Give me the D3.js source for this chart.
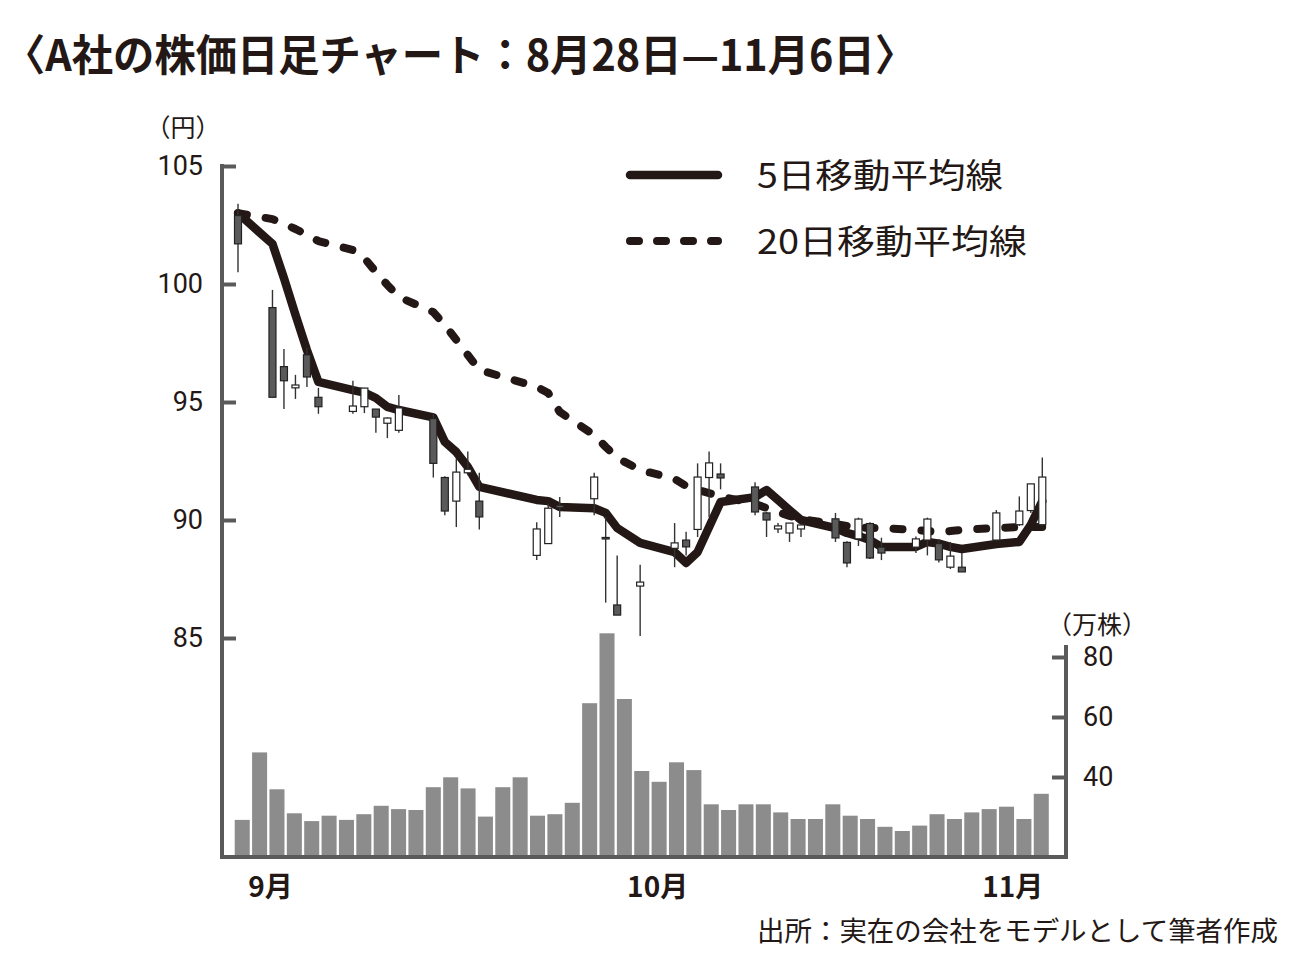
<!DOCTYPE html>
<html>
<head>
<meta charset="utf-8">
<script src="https://cdn.jsdelivr.net/npm/d3@7"></script>
<style>
  body { margin: 0; background: #fff; }
  text { font-family: "Noto Sans CJK JP", "Noto Sans", sans-serif; fill: #231815; }
  .num { font-family: Roboto, "DejaVu Sans", sans-serif; }
</style>
</head>
<body>
<div id="chart"></div>
<script>
// trading days (Oct 1 trading halted)
const dates = [
  '2020-08-28', '2020-08-31', '2020-09-01', '2020-09-02', '2020-09-03', '2020-09-04',
  '2020-09-07', '2020-09-08', '2020-09-09', '2020-09-10', '2020-09-11',
  '2020-09-14', '2020-09-15', '2020-09-16', '2020-09-17', '2020-09-18',
  '2020-09-23', '2020-09-24', '2020-09-25',
  '2020-09-28', '2020-09-29', '2020-09-30', '2020-10-02',
  '2020-10-05', '2020-10-06', '2020-10-07', '2020-10-08', '2020-10-09',
  '2020-10-12', '2020-10-13', '2020-10-14', '2020-10-15', '2020-10-16',
  '2020-10-19', '2020-10-20', '2020-10-21', '2020-10-22', '2020-10-23',
  '2020-10-26', '2020-10-27', '2020-10-28', '2020-10-29', '2020-10-30',
  '2020-11-02', '2020-11-04', '2020-11-05', '2020-11-06'
];
const opens = [102.9, 99.0, 96.5, 95.6, 97.0, 95.2, 94.6, 94.8, 94.7, 94.1, 93.8,
  94.3, 91.8, 90.8, 92.0, 90.8, 88.5, 89.0, 90.55, 90.9, 89.26, 86.4, 87.2,
  88.8, 89.15, 89.6, 91.8, 91.95, 91.4, 90.3, 89.62, 89.45, 89.62,
  90.05, 89.05, 89.2, 89.85, 88.85, 88.85, 89.15, 89.0, 88.0, 88.0,
  89.15, 89.8, 90.4, 89.8];
const highs = [103.4, 99.75, 97.25, 96.15, 97.3, 95.6, 95.9, 95.6, 94.7, 94.35, 95.3,
  94.5, 91.85, 92.6, 92.9, 92.0, 89.9, 90.7, 90.97, 92.0, 90.13, 88.5, 88.1,
  89.87, 89.5, 92.4, 92.9, 92.4, 91.6, 90.35, 89.87, 89.87, 89.85,
  90.3, 89.1, 90.1, 89.9, 89.25, 89.3, 90.1, 89.2, 89.07, 88.6,
  90.42, 91.0, 91.53, 92.65];
const lows = [100.5, 95.2, 94.7, 95.13, 95.64, 94.5, 94.5, 94.53, 93.7, 93.47, 93.7,
  91.8, 90.2, 89.7, 91.9, 89.6, 88.3, 89.0, 90.13, 90.2, 86.5, 85.97, 85.08,
  88.0, 88.5, 89.28, 90.13, 91.3, 90.2, 89.28, 89.45, 89.07, 89.28,
  89.07, 88.0, 88.9, 88.35, 88.3, 88.6, 88.5, 88.2, 87.92, 87.8,
  89.1, 89.75, 90.3, 89.75];
const closes = [101.7, 95.2, 95.9, 95.72, 96.06, 94.8, 94.83, 95.59, 94.36, 94.32, 94.75,
  92.4, 90.38, 92.03, 92.15, 90.13, 89.62, 90.5, 90.6, 91.82, 89.22, 85.97, 87.37,
  89.03, 88.86, 91.82, 92.42, 91.78, 90.34, 90.0, 89.75, 89.87, 89.79,
  89.24, 88.18, 90.04, 88.39, 88.6, 89.2, 90.04, 88.31, 88.47, 87.8,
  90.3, 90.38, 91.53, 91.82];

// moving averages as printed
const ma5 = [103.0, 101.7, 100.25, 98.7, 97.2, 95.85, 95.5, 95.4, 95.17, 94.79, 94.66,
  94.35, 93.31, 92.88, 92.25, 91.4, 90.85, 90.8, 90.55, 90.5, 90.3, 89.66, 89.03,
  88.64, 88.18, 88.64, 89.7, 90.76, 90.97, 91.27, 90.85, 90.42, 90.0,
  89.66, 89.45, 89.32, 89.15, 88.86, 88.86, 89.07, 89.0, 88.86, 88.77,
  88.98, 89.07, 89.79, 90.8];
const ma20 = [103.0, 102.75, 102.54, 102.33, 102.08, 101.82, 101.44, 101.1, 100.51, 99.96, 99.45,
  98.81, 98.26, 97.63, 96.99, 96.36, 95.64, 95.38, 94.58, 93.6, 93.1, 92.63, 92.12,
  91.74, 91.44, 91.27, 91.14, 91.0, 90.68, 90.51, 90.34, 90.17, 90.04,
  89.83, 89.75, 89.7, 89.66, 89.66, 89.58, 89.53, 89.49, 89.53, 89.58,
  89.66, 89.7, 89.7, 89.7];

// volume, 10,000 shares
const volumes = [25.7, 48.2, 35.9, 27.9, 25.3, 27.1, 25.7, 27.6, 30.4, 29.3, 29.0,
  36.6, 39.9, 36.2, 26.8, 36.6, 39.9, 27.1, 27.6, 31.4, 64.6, 87.9, 66.0,
  42.0, 38.4, 44.9, 42.3, 30.9, 29.0, 30.9, 30.9, 28.2, 26.0,
  26.0, 30.9, 27.1, 26.0, 23.4, 22.0, 23.8, 27.6, 26.0, 28.2,
  29.3, 30.1, 26.0, 34.4];

const priceTicks = [85, 90, 95, 100, 105];
const volumeTicks = [40, 60, 80];
const monthLabels = ['9月', '10月', '11月'];
const monthLabelDates = ['2020-08-31', '2020-10-03', '2020-11-03'];

const parse = d3.utcParse('%Y-%m-%d');
const days = dates.map(parse);
const candles = days.map((d, i) => ({ date: d, o: opens[i], h: highs[i], l: lows[i], c: closes[i] }));

const W = 1300, H = 965;
const axisColor = '#5a5a5a';
const ink = '#231815';
const baseY = 857;

const svg = d3.select('#chart').append('svg')
  .attr('width', W).attr('height', H)
  .style('background', '#fff');

const x = d3.scaleUtc()
  .domain([parse('2020-08-28'), parse('2020-11-06')])
  .range([238, 1042.3]);

const y = d3.scaleLinear().domain([85, 105]).range([638, 166]);

const xv = d3.scaleBand()
  .domain(d3.range(volumes.length))
  .range([233.5, 1050])
  .paddingInner(0.135)
  .paddingOuter(0.07);

const yv = d3.scaleLinear().domain([40, 80]).range([777, 657]);

// Title
svg.append('text')
  .attr('x', 4).attr('y', 71)
  .attr('textLength', 912).attr('lengthAdjust', 'spacingAndGlyphs')
  .style('font-size', '43px').style('font-weight', 'bold')
  .text('〈A社の株価日足チャート：8月28日—11月6日〉');

// Volume bars
svg.append('g').selectAll('rect')
  .data(volumes)
  .join('rect')
  .attr('x', (d, i) => xv(i))
  .attr('width', xv.bandwidth())
  .attr('y', d => yv(d))
  .attr('height', d => baseY - yv(d))
  .attr('fill', '#8c8c8c');

// Left (price) axis
const yAxisG = svg.append('g')
  .attr('transform', 'translate(222,0)')
  .call(d3.axisLeft(y).tickValues(priceTicks).tickSizeInner(-14).tickSizeOuter(0).tickPadding(19));
yAxisG.select('.domain').remove();
yAxisG.selectAll('line').attr('stroke', axisColor).attr('stroke-width', 4);
yAxisG.selectAll('text').attr('class', 'num').style('font-size', '27px').style('fill', ink);
svg.append('line')
  .attr('x1', 222).attr('x2', 222).attr('y1', 164).attr('y2', baseY + 2)
  .attr('stroke', axisColor).attr('stroke-width', 4);

// Right (volume) axis
const vAxisG = svg.append('g')
  .attr('transform', 'translate(1066,0)')
  .call(d3.axisRight(yv).tickValues(volumeTicks).tickSizeInner(-14).tickSizeOuter(0).tickPadding(17));
vAxisG.select('.domain').remove();
vAxisG.selectAll('line').attr('stroke', axisColor).attr('stroke-width', 4);
vAxisG.selectAll('text').attr('class', 'num').style('font-size', '27px').style('fill', ink);
svg.append('line')
  .attr('x1', 1066).attr('x2', 1066).attr('y1', 645).attr('y2', baseY + 2)
  .attr('stroke', axisColor).attr('stroke-width', 4);

// Bottom axis line
svg.append('line')
  .attr('x1', 220).attr('x2', 1068).attr('y1', baseY).attr('y2', baseY)
  .attr('stroke', axisColor).attr('stroke-width', 4);

// Unit labels
svg.append('text').attr('x', 183).attr('y', 137).attr('text-anchor', 'middle')
  .style('font-size', '25px').text('（円）');
svg.append('text').attr('x', 1097).attr('y', 634).attr('text-anchor', 'middle')
  .style('font-size', '25px').text('（万株）');

// Month labels
svg.append('g').selectAll('text')
  .data(monthLabels)
  .join('text')
  .attr('x', (d, i) => x(parse(monthLabelDates[i])))
  .attr('dx', (d, i) => [-2, 6, 5][i])
  .attr('y', 897)
  .attr('text-anchor', 'middle')
  .style('font-size', '28px').style('font-weight', 'bold')
  .text(d => d);

// Moving average lines
const line = d3.line().x((d, i) => x(days[i])).y(d => y(d));

svg.append('path')
  .attr('d', line(ma20))
  .attr('fill', 'none').attr('stroke', ink).attr('stroke-width', 8)
  .attr('stroke-linecap', 'round').attr('stroke-linejoin', 'round')
  .attr('stroke-dasharray', '9 19');

svg.append('path')
  .attr('d', line(ma5))
  .attr('fill', 'none').attr('stroke', ink).attr('stroke-width', 8.5)
  .attr('stroke-linecap', 'round').attr('stroke-linejoin', 'round');

// Candlesticks
const bodyW = 7;
const cg = svg.append('g').selectAll('g')
  .data(candles)
  .join('g');

cg.append('line')
  .attr('x1', d => x(d.date)).attr('x2', d => x(d.date))
  .attr('y1', d => y(d.h)).attr('y2', d => y(d.l))
  .attr('stroke', '#333').attr('stroke-width', 1.4);

cg.append('rect')
  .attr('x', d => x(d.date) - bodyW / 2)
  .attr('width', bodyW)
  .attr('y', d => y(Math.max(d.o, d.c)))
  .attr('height', d => Math.max(1.5, Math.abs(y(d.o) - y(d.c))))
  .attr('fill', d => d.c >= d.o ? '#fff' : '#5a5a5a')
  .attr('stroke', '#222').attr('stroke-width', 1.2);

// Legend
const legend = svg.append('g');
legend.append('line')
  .attr('x1', 630).attr('x2', 718).attr('y1', 175).attr('y2', 175)
  .attr('stroke', ink).attr('stroke-width', 8.5).attr('stroke-linecap', 'round');
legend.append('text')
  .attr('x', 757).attr('y', 188)
  .attr('textLength', 246).attr('lengthAdjust', 'spacingAndGlyphs')
  .style('font-size', '34px')
  .text('5日移動平均線');
legend.append('line')
  .attr('x1', 630).attr('x2', 718).attr('y1', 241).attr('y2', 241)
  .attr('stroke', ink).attr('stroke-width', 8).attr('stroke-linecap', 'round')
  .attr('stroke-dasharray', '9 18');
legend.append('text')
  .attr('x', 757).attr('y', 254)
  .attr('textLength', 270).attr('lengthAdjust', 'spacingAndGlyphs')
  .style('font-size', '34px')
  .text('20日移動平均線');

// Source
svg.append('text')
  .attr('x', 757).attr('y', 941)
  .attr('textLength', 521).attr('lengthAdjust', 'spacingAndGlyphs')
  .style('font-size', '27px')
  .text('出所：実在の会社をモデルとして筆者作成');
</script>
</body>
</html>
